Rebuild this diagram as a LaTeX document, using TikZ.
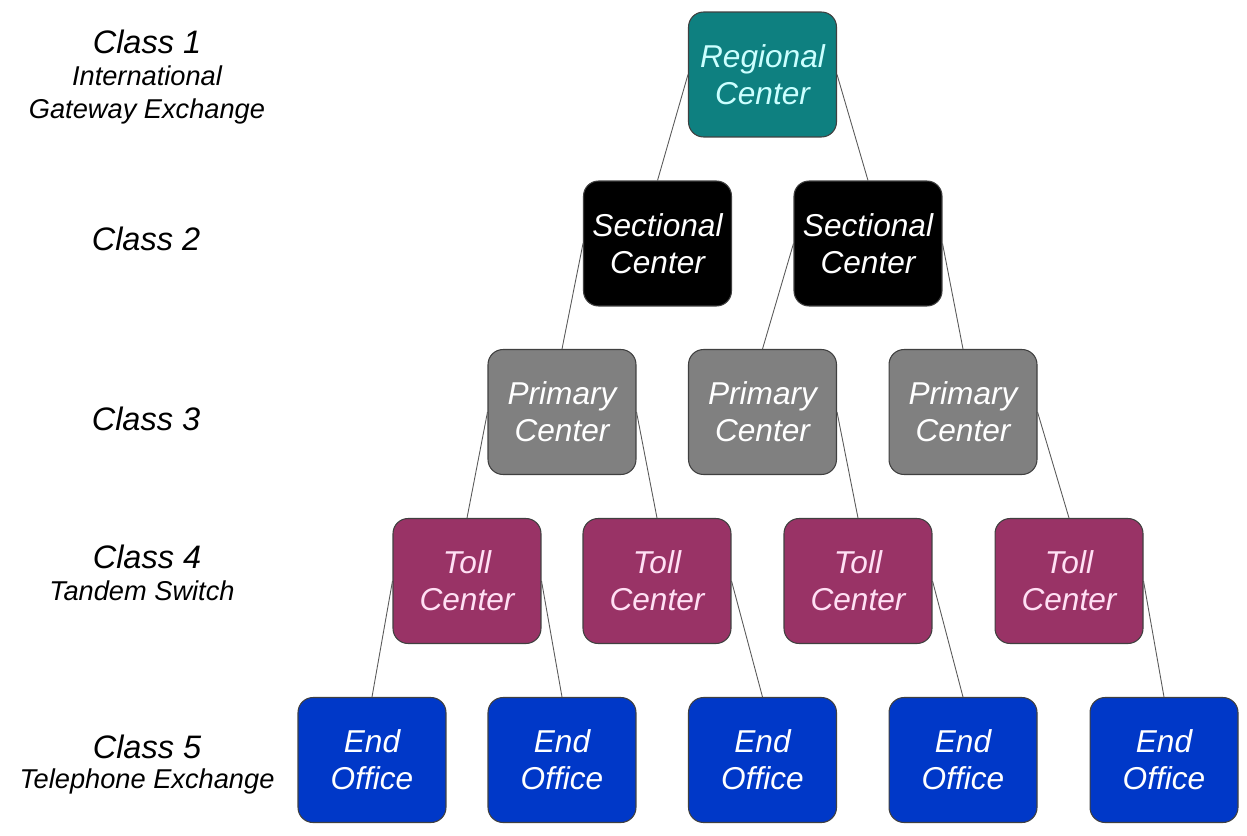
\documentclass[tikz,border=0pt]{standalone}
\usepackage{fontspec}
\setmainfont{Liberation Sans}
\usepackage{xcolor}
\usepackage{tikz}
\usetikzlibrary{positioning}
\definecolor{regional}{HTML}{0E8080}
\definecolor{primary}{HTML}{808080}
\definecolor{toll}{HTML}{993366}
\definecolor{endoff}{HTML}{0038C8}
\definecolor{lightcyan}{HTML}{CCFFFF}
\definecolor{lightpink}{HTML}{FFE0F4}
\tikzset{
  office/.style={draw=black!75,line width=0.6pt,rounded corners=0.3cm,minimum width=2.96cm,minimum height=2.5cm,align=center,text=white,font=\fontsize{18}{21}\selectfont\itshape},
  classname/.style={anchor=base,font=\fontsize{18.5}{22}\selectfont\itshape},
  classsub/.style={anchor=base,font=\fontsize{15.5}{18}\selectfont\itshape},
  trunk/.style={draw=black!65,line width=0.5pt}
}

\begin{document}
\begin{tikzpicture}[x=0.02cm,y=-0.02cm]
\useasboundingbox (0,0) rectangle (1247,835);
% class labels
\node[classname] (cls1) at (147,53) {Class 1};
\node[classsub] (cls1a) at (147,85) {International};
\node[classsub] (cls1b) at (147,118) {Gateway Exchange};
\node[classname] (cls2) at (146,250) {Class 2};
\node[classname] (cls3) at (146,430) {Class 3};
\node[classname] (cls4) at (147,568) {Class 4};
\node[classsub] (cls4a) at (142,600) {Tandem Switch};
\node[classname] (cls5) at (147,758) {Class 5};
\node[classsub] (cls5a) at (147,788) {Telephone Exchange};
% offices
\node[office,fill=regional,text=lightcyan] (reg) at (762.5,74.5) {Regional\\Center};
\foreach \n/\x in {sec1/657.5,sec2/868}
  {\node[office,fill=black] (\n) at (\x,243.5) {Sectional\\Center};}
\foreach \n/\x in {pri1/562,pri2/762.5,pri3/963}
  {\node[office,fill=primary] (\n) at (\x,412) {Primary\\Center};}
\foreach \n/\x in {toll1/467,toll2/657,toll3/858,toll4/1069}
  {\node[office,fill=toll,text=lightpink] (\n) at (\x,581) {Toll\\Center};}
\foreach \n/\x in {end1/372,end2/562,end3/762.5,end4/963,end5/1164}
  {\node[office,fill=endoff] (\n) at (\x,760) {End\\Office};}
% trunks
\foreach \a/\b in {reg.west/sec1,reg.east/sec2,sec1.west/pri1,sec2.west/pri2,sec2.east/pri3,pri1.west/toll1,pri1.east/toll2,pri2.east/toll3,pri3.east/toll4,toll1.west/end1,toll1.east/end2,toll2.east/end3,toll3.east/end4,toll4.east/end5}
  {\draw[trunk] (\a) -- (\b.north);}
\end{tikzpicture}
\end{document}
